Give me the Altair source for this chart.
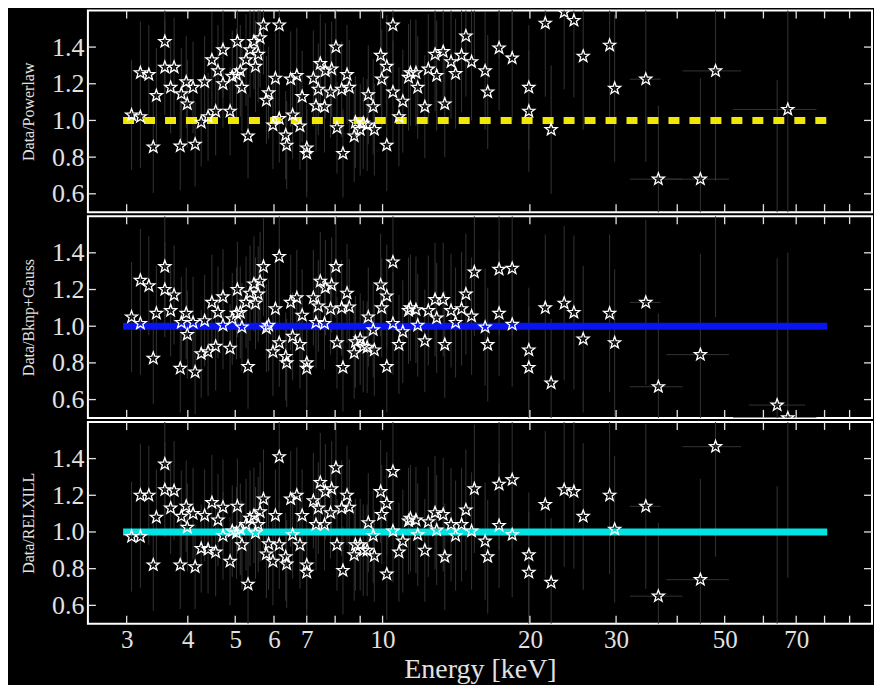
import altair as alt
import pandas as pd

# ---------------- data ----------------
energy = [3.07, 3.2, 3.2, 3.33, 3.4, 3.45, 3.59, 3.59, 3.69, 3.75,
          3.86, 3.88, 3.97, 3.99, 4.1, 4.14, 4.26, 4.33, 4.4, 4.48,
          4.56, 4.61, 4.72, 4.72, 4.88, 4.93, 5.05, 5.03, 5.12, 5.16,
          5.26, 5.31, 5.36, 5.46, 5.5, 5.57, 5.62, 5.71, 5.79, 5.85,
          5.97, 6.04, 6.15, 6.15, 6.34, 6.37, 6.49, 6.55, 6.68, 6.78,
          6.85, 7.0, 7.0, 7.22, 7.31, 7.39, 7.46, 7.61, 7.64, 7.83,
          7.87, 8.03, 8.07, 8.25, 8.3, 8.46, 8.55, 8.75, 8.8, 9.0,
          9.13, 9.3, 9.35, 9.57, 9.62, 9.91, 9.96, 10.2, 10.2, 10.5,
          10.5, 10.8, 11.0, 11.3, 11.4, 11.7, 11.8, 12.2, 12.4, 12.8,
          12.9, 13.3, 13.4, 13.8, 14.1, 14.5, 14.8, 15.2, 15.4, 16.2,
          16.4, 17.3, 17.3, 18.4, 18.4, 19.9, 19.9, 21.5, 22.1, 23.5,
          24.6, 25.7, 29.1, 29.8, 34.5, 36.6, 44.6, 47.9, 64.0, 67.3]

ratio_powerlaw = [1.03, 1.02, 1.26, 1.25, 0.855, 1.135, 1.43, 1.29, 1.18, 1.29,
                  0.86, 1.145, 1.21, 1.09, 1.18, 0.87, 0.99, 1.21, 1.02, 1.33,
                  1.05, 1.27, 1.385, 1.2, 1.05, 1.24, 1.43, 1.25, 1.27, 1.18,
                  1.33, 0.915, 1.385, 1.43, 1.295, 1.36, 1.45, 1.52, 1.11, 1.15,
                  0.975, 1.23, 1.52, 1.01, 0.92, 0.865, 1.225, 1.03, 1.245, 0.97,
                  1.13, 0.85, 0.82, 1.23, 1.08, 1.17, 1.31, 1.075, 1.27, 1.155,
                  1.28, 1.40, 0.96, 1.17, 0.82, 1.25, 1.18, 0.915, 0.99, 0.95,
                  0.985, 0.975, 1.14, 1.075, 0.95, 1.355, 1.225, 0.865, 1.295, 1.52,
                  1.155, 1.02, 1.105, 1.235, 1.26, 1.26, 1.18, 1.075, 1.28, 1.36,
                  1.245, 1.375, 1.09, 1.32, 1.255, 1.355, 1.46, 1.32, 1.63, 1.27,
                  1.155, 1.395, 1.7, 1.34, 1.75, 1.05, 1.18, 1.53, 0.95, 1.59,
                  1.545, 1.35, 1.41, 1.175, 1.225, 0.68, 0.68, 1.27, 0.42, 1.06]

ratio_bknp = [1.05, 1.015, 1.25, 1.22, 0.825, 1.07, 1.325, 1.2, 1.085, 1.17,
              0.77, 1.02, 1.07, 0.955, 1.02, 0.75, 0.85, 1.03, 0.86, 1.13,
              0.89, 1.075, 1.16, 1.005, 0.88, 1.04, 1.2, 1.07, 1.075, 0.995,
              1.13, 0.78, 1.18, 1.23, 1.125, 1.175, 1.245, 1.325, 0.99, 1.005,
              0.86, 1.095, 1.38, 0.91, 0.835, 0.8, 1.13, 0.945, 1.155, 0.9,
              1.06, 0.8, 0.77, 1.155, 1.02, 1.11, 1.245, 1.015, 1.21, 1.095,
              1.225, 1.325, 0.91, 1.1, 0.775, 1.18, 1.105, 0.855, 0.915, 0.93,
              0.89, 0.885, 1.05, 0.98, 0.87, 1.225, 1.1, 0.78, 1.165, 1.35,
              1.015, 0.9, 0.97, 1.085, 1.1, 1.09, 1.005, 0.92, 1.085, 1.145,
              1.045, 1.145, 0.9, 1.085, 1.02, 1.095, 1.175, 1.055, 1.295, 0.995,
              0.9, 1.07, 1.31, 1.01, 1.315, 0.775, 0.87, 1.1, 0.69, 1.125,
              1.075, 0.93, 1.07, 0.91, 1.13, 0.67, 0.845, 1.65, 0.57, 0.5]

ratio_relxill = [0.975, 0.975, 1.2, 1.2, 0.82, 1.08, 1.37, 1.23, 1.13, 1.225,
                 0.82, 1.085, 1.14, 1.025, 1.1, 0.81, 0.91, 1.09, 0.905, 1.16,
                 0.89, 1.065, 1.135, 0.98, 0.84, 1.005, 1.14, 0.995, 1.015, 0.93,
                 1.04, 0.715, 1.075, 1.09, 0.995, 1.04, 1.11, 1.18, 0.88, 0.935,
                 0.84, 1.09, 1.41, 0.93, 0.865, 0.825, 1.18, 0.985, 1.2, 0.93,
                 1.09, 0.82, 0.78, 1.17, 1.04, 1.13, 1.27, 1.04, 1.22, 1.105,
                 1.235, 1.35, 0.93, 1.13, 0.79, 1.2, 1.135, 0.875, 0.93, 0.93,
                 0.9, 0.9, 1.05, 0.98, 0.87, 1.22, 1.095, 0.77, 1.155, 1.33,
                 1.005, 0.89, 0.95, 1.06, 1.075, 1.065, 0.985, 0.9, 1.055, 1.105,
                 1.01, 1.095, 0.865, 1.04, 0.98, 1.04, 1.12, 1.005, 1.235, 0.95,
                 0.865, 1.035, 1.26, 0.985, 1.285, 0.78, 0.875, 1.15, 0.725, 1.23,
                 1.22, 1.085, 1.2, 1.015, 1.14, 0.65, 0.74, 1.465, 0.45, 1.65]

ratio_err = [0.30, 0.28, 0.28, 0.27, 0.25, 0.26, 0.28, 0.26, 0.25, 0.27,
             0.24, 0.25, 0.25, 0.24, 0.25, 0.23, 0.24, 0.25, 0.24, 0.26,
             0.24, 0.25, 0.26, 0.24, 0.24, 0.25, 0.26, 0.25, 0.25, 0.24,
             0.25, 0.23, 0.26, 0.26, 0.25, 0.26, 0.27, 0.27, 0.24, 0.25,
             0.24, 0.25, 0.28, 0.24, 0.24, 0.24, 0.26, 0.24, 0.26, 0.24,
             0.25, 0.24, 0.24, 0.26, 0.25, 0.25, 0.27, 0.25, 0.26, 0.25,
             0.26, 0.28, 0.25, 0.26, 0.24, 0.27, 0.26, 0.25, 0.25, 0.25,
             0.25, 0.25, 0.27, 0.26, 0.25, 0.28, 0.27, 0.25, 0.28, 0.31,
             0.28, 0.27, 0.28, 0.29, 0.29, 0.29, 0.28, 0.28, 0.30, 0.31,
             0.30, 0.31, 0.29, 0.31, 0.30, 0.31, 0.33, 0.32, 0.35, 0.32,
             0.31, 0.34, 0.36, 0.34, 0.37, 0.33, 0.34, 0.40, 0.35, 0.42,
             0.42, 0.40, 0.43, 0.40, 0.45, 0.40, 0.55, 0.60, 0.80, 0.90]

# horizontal (energy) error bars visible at high energy: index, low, high
hbar_index = [114, 115, 116, 117, 118, 119]
hbar_low = [32.0, 32.0, 38.0, 41.0, 56.0, 52.0]
hbar_high = [37.0, 41.0, 51.0, 54.0, 73.0, 77.0]

model_energy = [2.95, 81.0]
model_ratio = [1.0, 1.0]

x_ticks = [3, 4, 5, 6, 7, 8, 9, 10, 20, 30, 40, 50, 60, 70, 80, 90]
x_labelled = [3, 4, 5, 6, 7, 10, 20, 30, 50, 70]
y_ticks = [0.6, 0.8, 1.0, 1.2, 1.4]

# ---------------- styling ----------------
STAR = ("M0,-1L0.24,-0.33L0.95,-0.31L0.39,0.13L0.59,0.81L0,0.42"
        "L-0.59,0.81L-0.39,0.13L-0.95,-0.31L-0.24,-0.33Z")
W, H = 785, 202
FONT = "Liberation Serif"
TXT = "#e2e2e2"
ERRC = "#333333"

x_scale = alt.Scale(type="log", domain=[2.5, 100], nice=False)
y_scale = alt.Scale(domain=[0.5, 1.6], nice=False, zero=False)

label_expr = ("indexof(" + str(x_labelled) + ", datum.value) >= 0 ? "
              "format(datum.value, 'd') : ''")


def panel(ratios, ytitle, color, dash, show_x):
    df = pd.DataFrame({"E": energy, "R": ratios, "err": ratio_err})
    df["lo"] = df["R"] - df["err"]
    df["hi"] = df["R"] + df["err"]
    hdf = pd.DataFrame({
        "R": [ratios[i] for i in hbar_index],
        "E": hbar_low,
        "E2": hbar_high,
    })
    mdf = pd.DataFrame({"E": model_energy, "R": model_ratio})
    xt = pd.DataFrame({"E": x_ticks})
    yt = pd.DataFrame({"R": y_ticks})

    if show_x:
        xaxis = alt.Axis(values=x_ticks, labelExpr=label_expr, ticks=False,
                         domain=False, grid=False, labelOverlap=False,
                         labelFont=FONT, labelFontSize=25, labelColor=TXT,
                         labelPadding=4, title="Energy [keV]", titleFont=FONT,
                         titleFontSize=28, titleFontWeight="normal",
                         titleColor=TXT, titlePadding=3)
    else:
        xaxis = None
    yaxis = alt.Axis(values=y_ticks, format=".1f", ticks=False, domain=False,
                     grid=False, labelFont=FONT, labelFontSize=26,
                     labelColor=TXT, labelPadding=4, title=ytitle,
                     titleFont=FONT, titleFontSize=16,
                     titleFontWeight="normal", titleColor=TXT,
                     titlePadding=11, minExtent=40, maxExtent=40)

    X = lambda f: alt.X(f, scale=x_scale, axis=xaxis)
    Y = lambda f: alt.Y(f, scale=y_scale, axis=yaxis)

    ebars = alt.Chart(df).mark_rule(color=ERRC, strokeWidth=1,
                                    clip=True).encode(
        x=X("E:Q"), y=Y("lo:Q"), y2="hi:Q")
    hbars = alt.Chart(hdf).mark_rule(color=ERRC, strokeWidth=1,
                                     clip=True).encode(
        x=X("E:Q"), x2="E2:Q", y=Y("R:Q"))
    line_kw = dict(color=color, strokeWidth=7, clip=True, strokeCap="butt")
    if dash:
        line_kw["strokeDash"] = [11, 10]
    model = alt.Chart(mdf).mark_line(**line_kw).encode(x=X("E:Q"), y=Y("R:Q"))
    stars = alt.Chart(df).mark_point(shape=STAR, size=160, filled=False,
                                     stroke="white", strokeWidth=1.3,
                                     opacity=1, clip=True).encode(
        x=X("E:Q"), y=Y("R:Q"))
    tk = dict(color=TXT, strokeWidth=1.3)
    xt_top = alt.Chart(xt).mark_rule(**tk).encode(
        x=X("E:Q"), y=alt.value(0), y2=alt.value(8))
    xt_bot = alt.Chart(xt).mark_rule(**tk).encode(
        x=X("E:Q"), y=alt.value(H), y2=alt.value(H - 8))
    yt_l = alt.Chart(yt).mark_rule(**tk).encode(
        y=Y("R:Q"), x=alt.value(0), x2=alt.value(8))
    yt_r = alt.Chart(yt).mark_rule(**tk).encode(
        y=Y("R:Q"), x=alt.value(W), x2=alt.value(W - 8))

    return alt.layer(ebars, hbars, model, stars, xt_top, xt_bot, yt_l,
                     yt_r).properties(width=W, height=H)


p1 = panel(ratio_powerlaw, "Data/Powerlaw", "#f0e800", True, False)
p2 = panel(ratio_bknp, "Data/Bknp+Gauss", "#0a14f0", False, False)
p3 = panel(ratio_relxill, "Data/RELXILL", "#00e4e4", False, True)

chart = alt.vconcat(p1, p2, p3, spacing=0).properties(
    padding={"left": 12, "top": 0, "right": 0, "bottom": 0}
).configure(background="black").configure_view(stroke="white", strokeWidth=2)

chart.save("out.html", embed_options={"renderer": "svg", "actions": False})
